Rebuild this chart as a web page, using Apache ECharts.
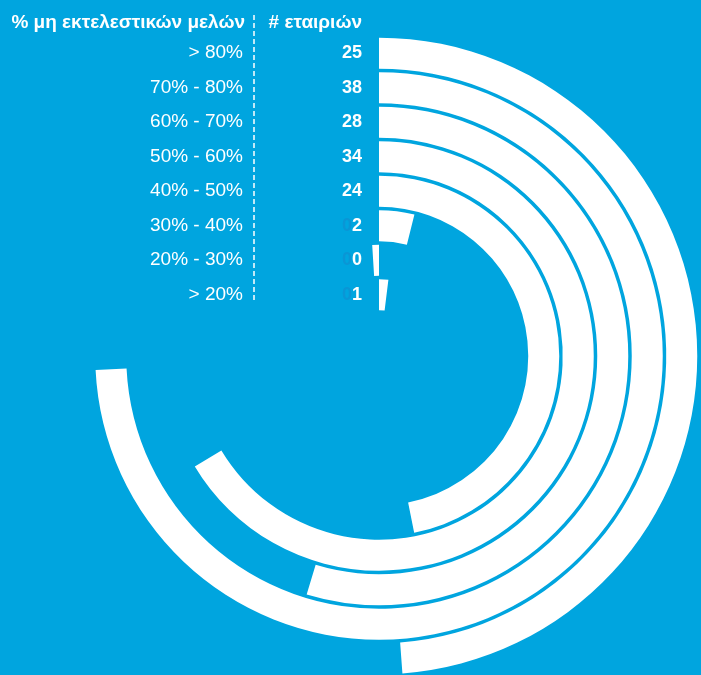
<!DOCTYPE html>
<html>
<head>
<meta charset="utf-8">
<script src="https://cdn.jsdelivr.net/npm/echarts@6/dist/echarts.min.js"></script>
<style>
  html, body { margin: 0; padding: 0; background: #00a5df; }
  #chart { width: 701px; height: 675px; }
</style>
</head>
<body>
<div id="chart"></div>
<script>
// Share of non-executive board members, and number of companies in each band
const categories = ['> 80%', '70% - 80%', '60% - 70%', '50% - 60%', '40% - 50%', '30% - 40%', '20% - 30%', '> 20%'];
const companies = [25, 38, 28, 34, 24, 2, 0, 1];
const headerLeft = '% μη εκτελεστικών μελών';
const headerRight = '# εταιριών';

const BG = '#00a5df';
const FAINT = '#0a96d5';
const FONT = '"Liberation Sans", Arial, Helvetica, sans-serif';

const chart = echarts.init(document.getElementById('chart'), null, { renderer: 'canvas' });

// two-digit count; a leading zero is printed in a faint tone
function countLabel(n) {
  if (n < 10) return '{z|0}{m|' + n + '}';
  return '{n|' + n + '}';
}

chart.setOption({
  backgroundColor: BG,
  animation: false,
  polar: {
    center: [379, 356],
    radius: [44, 320]
  },
  angleAxis: {
    type: 'value',
    startAngle: 90,
    clockwise: true,
    min: 0,
    max: 51.2,
    show: false
  },
  radiusAxis: {
    type: 'category',
    data: categories,
    inverse: true,
    axisLine: { show: false },
    axisTick: { show: false },
    splitLine: { show: false },
    axisLabel: {
      margin: 17,
      interval: 0,
      fontFamily: FONT,
      formatter: function (value, idx) {
        return '{c|' + value + '}' + countLabel(companies[idx]);
      },
      rich: {
        c: { color: '#ffffff', fontSize: 19, fontFamily: FONT, width: 230, align: 'right' },
        n: { color: '#ffffff', fontSize: 18, fontWeight: 'bold', fontFamily: FONT, width: 119, align: 'right' },
        z: { color: FAINT, fontSize: 18, fontWeight: 'bold', fontFamily: FONT, width: 109, align: 'right' },
        m: { color: '#ffffff', fontSize: 18, fontWeight: 'bold', fontFamily: FONT }
      }
    }
  },
  series: [{
    type: 'bar',
    coordinateSystem: 'polar',
    data: companies,
    barWidth: 31,
    barMinAngle: 3.5,
    itemStyle: { color: '#ffffff' },
    silent: true
  }],
  graphic: [
    {
      type: 'text',
      x: 245, y: 23,
      style: {
        text: headerLeft,
        fill: '#ffffff',
        font: 'bold 19px ' + FONT,
        textAlign: 'right',
        textVerticalAlign: 'middle'
      }
    },
    {
      type: 'text',
      x: 362, y: 23,
      style: {
        text: headerRight,
        fill: '#ffffff',
        font: 'bold 19px ' + FONT,
        textAlign: 'right',
        textVerticalAlign: 'middle'
      }
    },
    {
      type: 'line',
      shape: { x1: 254, y1: 15, x2: 254, y2: 303 },
      style: { stroke: '#ffffff', lineWidth: 1.5, lineDash: [5, 3] }
    }
  ]
});
</script>
</body>
</html>
